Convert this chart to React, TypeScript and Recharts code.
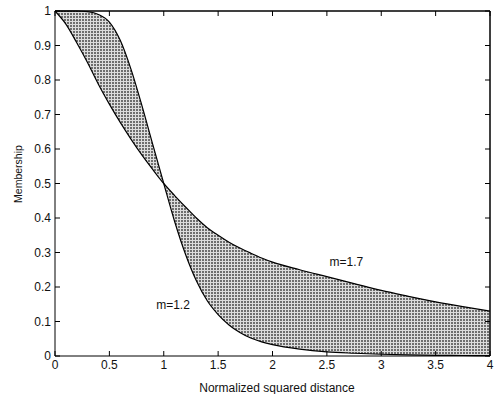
import { ComposedChart, Area, Line, XAxis, YAxis, ReferenceDot, ReferenceLine, Label } from 'recharts';

// normalized squared distance (x)
const distances = [0, 0.1, 0.2, 0.3, 0.4, 0.5, 0.6, 0.7, 0.8, 0.9, 1.0, 1.1, 1.2, 1.3, 1.4, 1.5, 1.6, 1.7, 1.8, 1.9, 2, 2.25, 2.5, 2.75, 3, 3.25, 3.5, 3.75, 4];
// membership
const membershipM12 = [1, 1, 1, 0.998, 0.99, 0.968, 0.915, 0.83, 0.725, 0.612, 0.5, 0.39, 0.295, 0.218, 0.16, 0.12, 0.09, 0.068, 0.052, 0.041, 0.033, 0.02, 0.012, 0.008, 0.005, 0.003, 0.002, 0.0015, 0.001];
const membershipM17 = [1, 0.962, 0.908, 0.85, 0.787, 0.73, 0.677, 0.628, 0.582, 0.54, 0.5, 0.465, 0.432, 0.4, 0.372, 0.35, 0.33, 0.313, 0.298, 0.284, 0.272, 0.25, 0.23, 0.21, 0.19, 0.173, 0.157, 0.143, 0.13];

const xTicks = [0, 0.5, 1, 1.5, 2, 2.5, 3, 3.5, 4];
const yTicks = [0, 0.1, 0.2, 0.3, 0.4, 0.5, 0.6, 0.7, 0.8, 0.9, 1];

const labelM17 = { x: 2.68, y: 0.272, text: 'm=1.7' };
const labelM12 = { x: 1.085, y: 0.148, text: 'm=1.2' };

const rows = distances.map((x, i) => ({
  x,
  m12: membershipM12[i],
  m17: membershipM17[i],
  band: [Math.min(membershipM12[i], membershipM17[i]), Math.max(membershipM12[i], membershipM17[i])],
}));

const font = 'Arial, "Liberation Sans", sans-serif';
const tickStyle = { fontSize: 12, fill: '#111', fontFamily: font };
const noLabel = () => <g />;

export default function App() {
  return (
    <div style={{ position: 'absolute', left: 0, top: 0, width: 494, height: 394, background: '#fff' }}>
      <ComposedChart width={494} height={394} data={rows} margin={{ top: 10, right: 3, bottom: 0, left: 0 }}>
        <defs>
          <pattern id="hatch" width="3" height="3" patternUnits="userSpaceOnUse">
            <rect width="3" height="3" fill="#6e6e6e" />
            <rect width="3" height="1" fill="#dcdcdc" />
            <rect width="1" height="3" fill="#dcdcdc" />
          </pattern>
        </defs>
        <XAxis
          dataKey="x"
          type="number"
          domain={[0, 4]}
          ticks={xTicks}
          height={38}
          tickSize={-5}
          tickMargin={9}
          tick={tickStyle}
          stroke="#000"
          tickLine={{ stroke: '#000' }}
          interval={0}
        >
          <Label
            content={() => (
              <text x={277} y={392} textAnchor="middle" fontSize={12} fill="#111" fontFamily={font}>
                Normalized squared distance
              </text>
            )}
          />
        </XAxis>
        <XAxis
          xAxisId="top"
          orientation="top"
          dataKey="x"
          type="number"
          domain={[0, 4]}
          allowDataOverflow
          ticks={xTicks}
          height={1}
          tickSize={-5}
          tick={noLabel}
          stroke="#000"
          interval={0}
        />
        <YAxis
          type="number"
          domain={[0, 1]}
          ticks={yTicks}
          width={55}
          tickSize={-5}
          tickMargin={9}
          tick={tickStyle}
          stroke="#000"
          interval={0}
        >
          <Label
            content={() => (
              <text x={22} y={174} transform="rotate(-90 22 174)" textAnchor="middle" fontSize={10.5} fill="#111" fontFamily={font}>
                Membership
              </text>
            )}
          />
        </YAxis>
        <YAxis
          yAxisId="right"
          orientation="right"
          type="number"
          domain={[0, 1]}
          allowDataOverflow
          ticks={yTicks}
          width={1}
          tickSize={-5}
          tick={noLabel}
          stroke="#000"
          interval={0}
        />
        <Area type="monotone" dataKey="band" stroke="none" fill="url(#hatch)" fillOpacity={1} isAnimationActive={false} />
        <Line type="monotone" dataKey="m12" stroke="#000" strokeWidth={1.2} dot={false} isAnimationActive={false} />
        <Line type="monotone" dataKey="m17" stroke="#000" strokeWidth={1.2} dot={false} isAnimationActive={false} />
        {/* invisible copy so the top/right frame axes have a series */}
        <Line xAxisId="top" yAxisId="right" type="monotone" dataKey="m17" stroke="none" dot={false} legendType="none" isAnimationActive={false} />
        <ReferenceLine y={1} stroke="#000" />
        <ReferenceLine x={4} stroke="#000" />
        <ReferenceDot x={labelM17.x} y={labelM17.y} r={0} stroke="none" label={{ value: labelM17.text, position: 'center', style: { fontSize: 12, fill: '#111', fontFamily: font } }} />
        <ReferenceDot x={labelM12.x} y={labelM12.y} r={0} stroke="none" label={{ value: labelM12.text, position: 'center', style: { fontSize: 12, fill: '#111', fontFamily: font } }} />
      </ComposedChart>
    </div>
  );
}
